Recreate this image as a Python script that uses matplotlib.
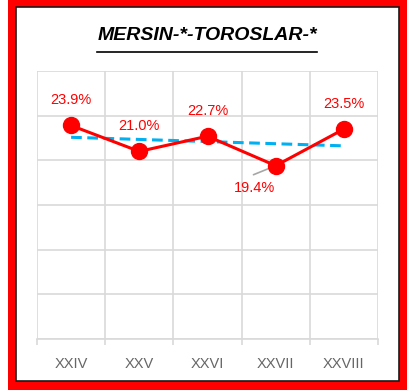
import numpy as np
import matplotlib.pyplot as plt
from matplotlib.patches import Rectangle
from matplotlib.lines import Line2D

plt.rcParams['font.family'] = ['Liberation Sans', 'DejaVu Sans']

periods = ["XXIV", "XXV", "XXVI", "XXVII", "XXVIII"]
shares = [23.9, 21.0, 22.7, 19.4, 23.5]

W, H = 409, 391
fig = plt.figure(figsize=(W / 100, H / 100), dpi=100)

# frame: thick red border with a thin dark inner edge
fig.patches.append(Rectangle((8 / W, 1 - 390 / H), 399 / W, 390 / H,
                             transform=fig.transFigure, facecolor="#FF0000",
                             edgecolor="none", zorder=-3))
fig.patches.append(Rectangle((16 / W, 1 - 381 / H), 383 / W, 374 / H,
                             transform=fig.transFigure, facecolor="white",
                             edgecolor="#1a1a1a", linewidth=1.2, zorder=-2))

ax = fig.add_axes([37 / W, 1 - 339 / H, 341 / W, 268 / H])
ax.set_facecolor("none")
x = np.arange(len(periods))

ax.set_xlim(-0.5, len(periods) - 0.5)
ax.set_ylim(0, 30)
ax.set_yticks(np.arange(0, 31, 5))
ax.set_xticks(x)
ax.set_xticklabels(periods, color="#666666", fontsize=10.5)
ax.set_xticks(np.arange(-0.5, len(periods), 1), minor=True)
ax.tick_params(axis="x", which="major", length=0, pad=13)
ax.tick_params(axis="x", which="minor", length=4, color="#D9D9D9", width=1.2)
ax.tick_params(axis="y", length=0, labelleft=False)
ax.grid(True, which="minor", axis="x", color="#D9D9D9", linewidth=1.2)
ax.grid(True, which="major", axis="y", color="#D9D9D9", linewidth=1.2)
for s in ["top", "right", "left"]:
    ax.spines[s].set_visible(False)
ax.spines["bottom"].set_color("#D9D9D9")
ax.spines["bottom"].set_linewidth(1.2)
ax.set_axisbelow(True)

# linear trend
k, b = np.polyfit(x, shares, 1)
ax.plot(x, k * x + b, color="#00B0F0", linewidth=2.2, linestyle=(0, (3.5, 1.8)),
        zorder=2)

ax.plot(x, shares, color="#FF0000", linewidth=2.2, marker="o", markersize=11.5,
        zorder=3)

for i, v in enumerate(shares):
    if i == 3:
        # label sits below-left, with a grey leader line to its point
        ax.annotate("", (x[i], v), xytext=(-16, -6.5), textcoords="offset points",
                    arrowprops=dict(arrowstyle="-", color="#A6A6A6", lw=1.2,
                                    shrinkA=0, shrinkB=4),
                    zorder=2.5)
        ax.annotate(f"{v:.1f}%", (x[i], v), xytext=(-15, -16),
                    textcoords="offset points", ha="center", va="center",
                    color="#FF0000", fontsize=10.5)
    else:
        ax.annotate(f"{v:.1f}%", (x[i], v), xytext=(0, 18),
                    textcoords="offset points", ha="center", va="center",
                    color="#FF0000", fontsize=10.5)

title = fig.text(207 / W, 1 - 35 / H, "MERSIN-*-TOROSLAR-*", ha="center",
                 va="center", fontsize=14, fontweight="bold", fontstyle="italic",
                 color="black")
fig.canvas.draw()
bb = title.get_window_extent(fig.canvas.get_renderer())
fig.lines.append(Line2D([bb.x0 / W, bb.x1 / W], [1 - 51.5 / H, 1 - 51.5 / H],
                        transform=fig.transFigure, color="black", linewidth=1.2))

fig.savefig("out.png", dpi=100)
